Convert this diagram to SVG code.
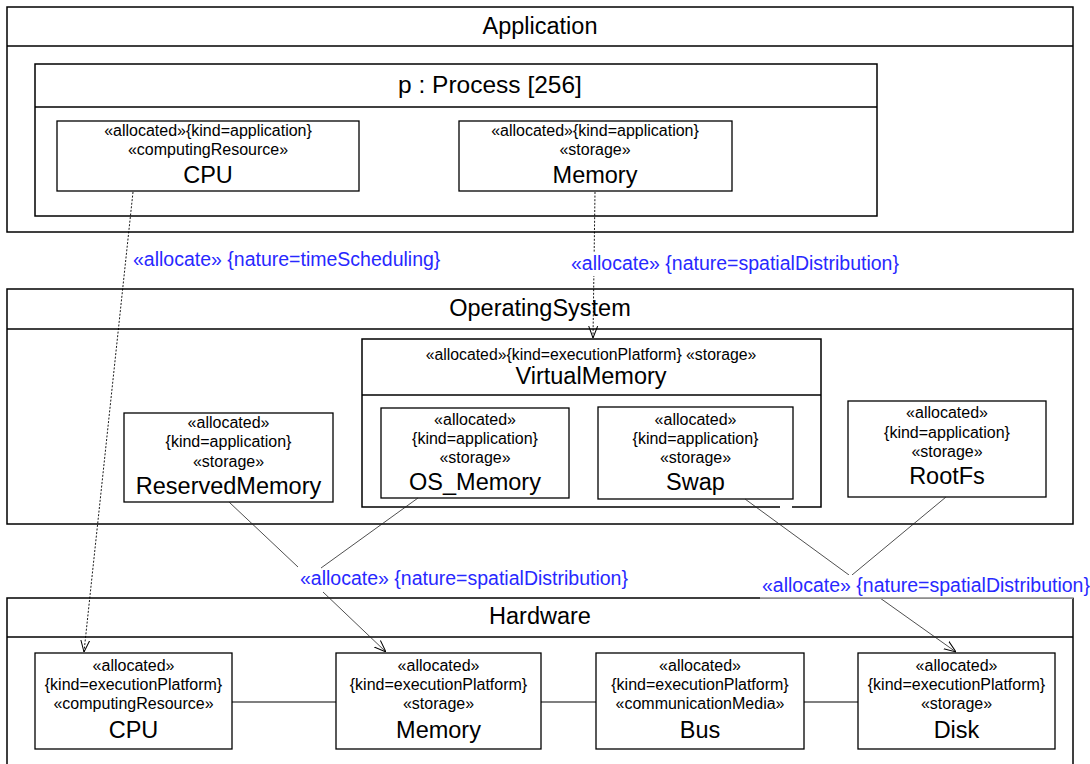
<svg xmlns="http://www.w3.org/2000/svg" width="1090" height="764" viewBox="0 0 1090 764">
<defs>
<style>
text{font-family:"Liberation Sans",Arial,sans-serif;fill:#000}
.title{font-size:23.5px;text-anchor:middle}
.name{font-size:23.5px;text-anchor:middle}
.st{font-size:16px;text-anchor:middle}
.lbl{font-size:19.5px;fill:#2828ff}
.frame{fill:#fff;stroke:#000;stroke-width:1.5}
.box{fill:#fff;stroke:#000;stroke-width:1.3}
.div{stroke:#000;stroke-width:1.5}
.dot{fill:none;stroke:#000;stroke-width:0.9;stroke-dasharray:2 1.6}
.sol{fill:none;stroke:#222;stroke-width:0.8}
.link{stroke:#000;stroke-width:1.1}
</style>
<marker id="arr" viewBox="0 0 12 12" refX="12" refY="6" markerWidth="12" markerHeight="12" markerUnits="userSpaceOnUse" orient="auto">
<path d="M0,1.5 L12,6 L0,10.5" fill="none" stroke="#000" stroke-width="1"/>
</marker>
</defs>
<rect width="1090" height="764" fill="#fff"/>

<g id="Application">
<rect class="frame" x="7" y="7" width="1066" height="225"/>
<line class="div" x1="7" y1="46" x2="1073" y2="46"/>
<text class="title" x="540" y="34">Application</text>
</g>
<g id="Process">
<rect class="frame" x="35" y="64" width="842" height="152"/>
<line class="div" x1="35" y1="107" x2="877" y2="107"/>
<text class="title" x="490" y="93" style="font-size:24.5px">p : Process [256]</text>
</g>
<g id="AppCPU">
<rect class="box" x="57" y="121" width="302" height="70"/>
<text class="st" x="208" y="136">«allocated»{kind=application}</text>
<text class="st" x="208" y="155">«computingResource»</text>
<text class="name" x="208" y="183">CPU</text>
</g>
<g id="AppMemory">
<rect class="box" x="459" y="121" width="273" height="70"/>
<text class="st" x="595" y="136">«allocated»{kind=application}</text>
<text class="st" x="595" y="155">«storage»</text>
<text class="name" x="595" y="183">Memory</text>
</g>

<g id="OperatingSystem">
<rect class="frame" x="7" y="289" width="1066" height="235"/>
<line class="div" x1="7" y1="329" x2="1073" y2="329"/>
<text class="title" x="540" y="316">OperatingSystem</text>
</g>
<g id="VirtualMemory">
<rect x="362" y="339" width="459" height="168" fill="#fff"/>
<path d="M780,507 L362,507 L362,339 L821,339 L821,507 L792,507" fill="none" stroke="#000" stroke-width="1.5"/>
<line class="div" x1="362" y1="395" x2="821" y2="395"/>
<text class="st" x="591" y="360" style="font-size:15.8px">«allocated»{kind=executionPlatform} «storage»</text>
<text class="name" x="591" y="384">VirtualMemory</text>
</g>
<g id="ReservedMemory">
<rect class="box" x="124" y="413" width="209" height="89"/>
<text class="st" x="228.5" y="428">«allocated»</text>
<text class="st" x="228.5" y="447">{kind=application}</text>
<text class="st" x="228.5" y="467">«storage»</text>
<text class="name" x="228.5" y="494">ReservedMemory</text>
</g>
<g id="OS_Memory">
<rect class="box" x="381" y="408" width="188" height="90"/>
<text class="st" x="475" y="425">«allocated»</text>
<text class="st" x="475" y="444">{kind=application}</text>
<text class="st" x="475" y="463">«storage»</text>
<text class="name" x="475" y="490">OS_Memory</text>
</g>
<g id="Swap">
<rect class="box" x="598" y="407" width="195" height="92"/>
<text class="st" x="695.5" y="425">«allocated»</text>
<text class="st" x="695.5" y="444">{kind=application}</text>
<text class="st" x="695.5" y="463">«storage»</text>
<text class="name" x="695.5" y="490">Swap</text>
</g>
<g id="RootFs">
<rect class="box" x="848" y="401" width="198" height="96"/>
<text class="st" x="947" y="418">«allocated»</text>
<text class="st" x="947" y="438">{kind=application}</text>
<text class="st" x="947" y="457">«storage»</text>
<text class="name" x="947" y="484">RootFs</text>
</g>

<g id="Hardware">
<rect class="frame" x="7" y="598" width="1066" height="180"/>
<line class="div" x1="7" y1="637" x2="1073" y2="637"/>
<text class="title" x="540" y="624">Hardware</text>
</g>
<g id="HwLinks">
<line class="link" x1="232" y1="702" x2="336" y2="702"/>
<line class="link" x1="541" y1="702" x2="596" y2="702"/>
<line class="link" x1="804" y1="702" x2="858" y2="702"/>
</g>
<g id="HwCPU">
<rect class="box" x="35" y="653" width="197" height="96"/>
<text class="st" x="133.5" y="671">«allocated»</text>
<text class="st" x="133.5" y="690">{kind=executionPlatform}</text>
<text class="st" x="133.5" y="709">«computingResource»</text>
<text class="name" x="133.5" y="738">CPU</text>
</g>
<g id="HwMemory">
<rect class="box" x="336" y="653" width="205" height="96"/>
<text class="st" x="438.5" y="671">«allocated»</text>
<text class="st" x="438.5" y="690">{kind=executionPlatform}</text>
<text class="st" x="438.5" y="709">«storage»</text>
<text class="name" x="438.5" y="738">Memory</text>
</g>
<g id="HwBus">
<rect class="box" x="596" y="653" width="208" height="96"/>
<text class="st" x="700" y="671">«allocated»</text>
<text class="st" x="700" y="690">{kind=executionPlatform}</text>
<text class="st" x="700" y="709">«communicationMedia»</text>
<text class="name" x="700" y="738">Bus</text>
</g>
<g id="HwDisk">
<rect class="box" x="858" y="653" width="197" height="96"/>
<text class="st" x="956.5" y="671">«allocated»</text>
<text class="st" x="956.5" y="690">{kind=executionPlatform}</text>
<text class="st" x="956.5" y="709">«storage»</text>
<text class="name" x="956.5" y="738">Disk</text>
</g>

<g id="connectors">
<line class="dot" x1="133" y1="192" x2="84" y2="652" marker-end="url(#arr)"/>
<line class="dot" x1="595" y1="192" x2="593" y2="338" marker-end="url(#arr)"/>
<line class="sol" x1="229" y1="502" x2="298" y2="567"/>
<line class="sol" x1="418" y1="498" x2="321" y2="568"/>
<line class="sol" x1="323" y1="592" x2="386" y2="652" marker-end="url(#arr)"/>
<line class="sol" x1="745" y1="499" x2="849" y2="575"/>
<line class="sol" x1="946" y1="497" x2="852" y2="575"/>
<line class="sol" x1="880" y1="598" x2="956" y2="652" marker-end="url(#arr)"/>
</g>

<g id="labels">
<text class="lbl" x="133" y="266">«allocate» {nature=timeScheduling}</text>
<rect x="568" y="252" width="334" height="24" fill="#fff"/>
<text class="lbl" x="571" y="270">«allocate» {nature=spatialDistribution}</text>
<text class="lbl" x="300" y="585">«allocate» {nature=spatialDistribution}</text>
<rect x="760" y="575" width="330" height="22.5" fill="#fff"/>
<line x1="760" y1="598" x2="1073" y2="598" stroke="#aaa" stroke-width="1.6"/>
<text class="lbl" x="762" y="592">«allocate» {nature=spatialDistribution}</text>
</g>
</svg>
